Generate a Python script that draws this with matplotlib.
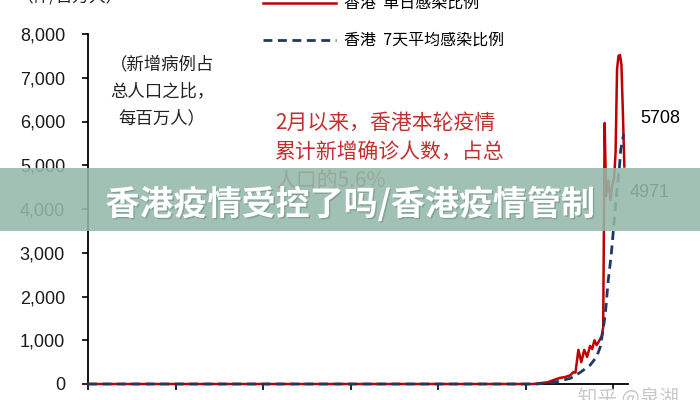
import matplotlib
matplotlib.use("Agg")
import matplotlib.pyplot as plt
import matplotlib.patheffects as pe
from matplotlib.patches import Rectangle

plt.rcParams["font.family"] = ["Liberation Sans", "Noto Sans CJK SC", "DejaVu Sans"]

# 香港 单日感染比例 (每百万人), x = days since start of series
daily_days = [0, 610, 620, 630, 638, 647, 654, 661, 665, 668, 672, 676, 680, 684,
              688, 691, 694, 697, 701, 704, 706, 708, 710, 713, 716, 719, 721,
              723, 725, 727, 729, 731, 733, 735]
daily_vals = [0, 0, 20, 40, 90, 140, 160, 200, 270, 260, 780, 500, 780, 620,
              870, 800, 1000, 890, 1000, 1100, 1300, 5966, 4300, 4650, 4200,
              4600, 4700, 5300, 7200, 7500, 7520, 7300, 6200, 4971]

# 香港 7天平均感染比例
avg_days = [0, 615, 640, 661, 675, 688, 697, 702, 706, 709, 713, 717, 720, 724,
            728, 730, 734]
avg_vals = [0, 0, 40, 130, 270, 430, 620, 850, 1250, 1620, 2380, 2950, 3520,
            4300, 4900, 5350, 5708]

x_ticks = [0, 120, 240, 360, 480, 600, 720]
y_ticks = [0, 1000, 2000, 3000, 4000, 5000, 6000, 7000, 8000]

RED = "#c00000"
NAVY = "#1f3864"
CJK = ["Noto Sans CJK SC", "DejaVu Sans"]

fig = plt.figure(figsize=(7, 4), dpi=100)
ax = fig.add_axes([88 / 700, 16 / 400, 540 / 700, 350 / 400])

ax.plot(daily_days, daily_vals, color=RED, lw=1.8, zorder=3, clip_on=False,
        label="香港  单日感染比例")
ax.plot(avg_days, avg_vals, color=NAVY, lw=2.0, ls=(0, (3.2, 2)), zorder=4,
        clip_on=False, label="香港  7天平均感染比例")

ax.set_xlim(0, 740)
ax.set_ylim(0, 8000)
ax.set_xticks(x_ticks)
ax.set_xticklabels([])
ax.set_yticks(y_ticks)
ax.set_yticklabels([f"{v:,}" for v in y_ticks])
ax.tick_params(axis="y", direction="out", length=4.5, width=1.2, pad=12,
               labelsize=13, labelcolor="#1a1a1a")
ax.tick_params(axis="x", direction="out", length=4.5, width=1.2)
for s in ("top", "right"):
    ax.spines[s].set_visible(False)
for s in ("left", "bottom"):
    ax.spines[s].set_linewidth(1.3)

ax.annotate(f"{avg_vals[-1]}", xy=(avg_days[-1], avg_vals[-1]),
            xytext=(12, 11), textcoords="offset points", fontsize=13,
            va="center", ha="left", annotation_clip=False)
ax.annotate(f"{daily_vals[-1]}", xy=(daily_days[-1], daily_vals[-1]),
            xytext=(4, -19), textcoords="offset points", fontsize=13,
            va="center", ha="left", annotation_clip=False)

ax.legend(loc="upper left", bbox_to_anchor=(263 / 700, 1.012),
          bbox_transform=fig.transFigure, frameon=False, borderpad=0,
          borderaxespad=0, handlelength=4.6, handletextpad=0.5,
          labelspacing=1.25, prop={"family": CJK, "size": 11.5})

fig.text(162 / 700, 1 - 55 / 400, "（新增病例占\n总人口之比，\n每百万人）",
         ha="center", va="top", fontsize=12.5, family=CJK,
         multialignment="center", linespacing=1.65, color="#222222")

fig.text(275 / 700, 1 - 112 / 400, "2月以来，香港本轮疫情\n累计新增确诊人数，占总\n人口的5.6%",
         ha="left", va="top", fontsize=15, family=CJK, linespacing=1.42,
         color="#c0302e")

fig.text(70 / 700, 1 + 3 / 400, "（件/百万人）", ha="center", va="center",
         fontsize=12, family=CJK, color="#222222")
fig.text(628 / 700, 1 - 398 / 400, "知乎 @泉湖", ha="center", va="center",
         fontsize=14, family=CJK, color="#c8c8c8")

# overlay banner
fig.patches.append(Rectangle((0, 1 - 231 / 400), 1, 63 / 400,
                             transform=fig.transFigure, facecolor="#94b9aa",
                             alpha=0.88, edgecolor="none", zorder=5))
fig.text(0.5, 1 - 204 / 400, "香港疫情受控了吗/香港疫情管制", ha="center",
         va="center", fontsize=24.5, fontweight="bold", family=CJK, color="white",
         zorder=6, path_effects=[pe.withSimplePatchShadow(offset=(1, -1),
                                                         shadow_rgbFace="#6f8f83",
                                                         alpha=0.6)])

fig.savefig("out.png", dpi=100)
